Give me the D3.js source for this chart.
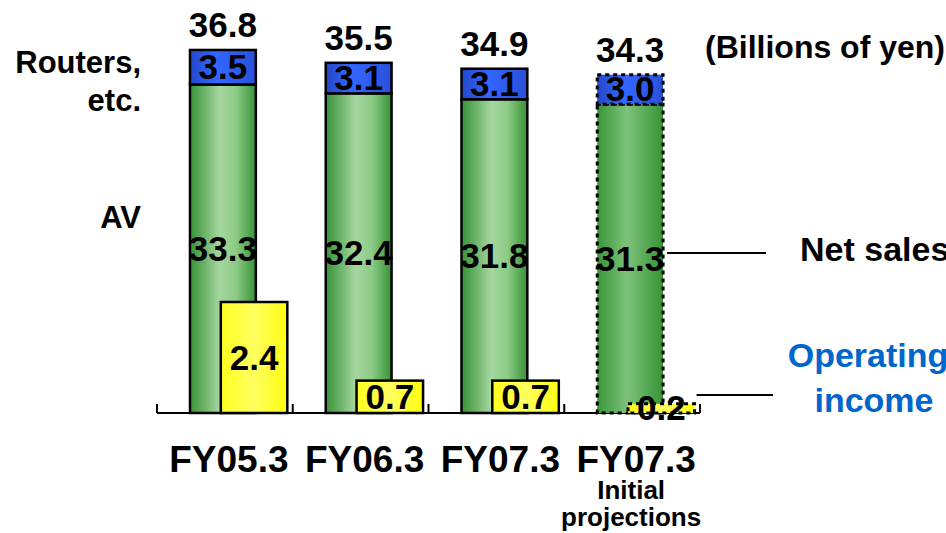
<!DOCTYPE html>
<html>
<head>
<meta charset="utf-8">
<script src="https://cdn.jsdelivr.net/npm/d3@7"></script>
<style>
  body { margin: 0; background: #fff; }
  text { font-family: "Liberation Sans", Arial, sans-serif; font-weight: bold; }
</style>
</head>
<body>
<div id="chart-area"></div>
<script>
// data (billions of yen)
var categories = ["FY05.3", "FY06.3", "FY07.3", "FY07.3"];
var avSales = [33.3, 32.4, 31.8, 31.3];
var routerSales = [3.5, 3.1, 3.1, 3.0];
var netSales = [36.8, 35.5, 34.9, 34.3];
var opIncome = [2.4, 0.7, 0.7, 0.2];
var projected = [false, false, false, true];

var svgWidth = 946, svgHeight = 533;
var svg = d3.select("#chart-area").append("svg")
    .attr("width", svgWidth)
    .attr("height", svgHeight);

// gradients
var defs = svg.append("defs");
function grad(id, stops) {
    var g = defs.append("linearGradient").attr("id", id)
        .attr("x1", "0%").attr("x2", "100%").attr("y1", "0%").attr("y2", "0%");
    stops.forEach(s => g.append("stop").attr("offset", s[0]).attr("stop-color", s[1]));
}
grad("green", [["0%", "#369236"], ["45%", "#a6d6a0"], ["70%", "#8ccb86"], ["100%", "#369236"]]);
grad("green2", [["0%", "#389638"], ["45%", "#7fc27b"], ["100%", "#369436"]]);
grad("blue", [["0%", "#2448c8"], ["40%", "#3366ff"], ["100%", "#2a50d8"]]);
grad("yellow", [["0%", "#ffff20"], ["50%", "#ffff60"], ["100%", "#ffff10"]]);

// scales
var x = d3.scaleBand()
    .domain(d3.range(categories.length))
    .range([157, 700])
    .padding(0);
var y = d3.scaleLinear().domain([0, 40]).range([413, 18.4]);
var y2 = d3.scaleLinear().domain([0, 8]).range([413, 43]);

var bw = x.bandwidth();
var gx = i => x(i) + bw * 0.243;   // sales bar left
var gw = bw * 0.485;
var yx = i => x(i) + bw * 0.47;    // op income bar left
var yw = bw * 0.49;

// axis line with boundary ticks
var axis = svg.append("g").attr("class", "x-axis");
axis.append("line")
    .attr("x1", x.range()[0]).attr("x2", x.range()[1])
    .attr("y1", y(0)).attr("y2", y(0))
    .attr("stroke", "#000").attr("stroke-width", 2);
axis.selectAll(".tick")
    .data(d3.range(categories.length + 1))
    .enter().append("line")
    .attr("x1", d => x.range()[0] + d * x.step())
    .attr("x2", d => x.range()[0] + d * x.step())
    .attr("y1", y(0) - 9).attr("y2", y(0))
    .attr("stroke", "#000").attr("stroke-width", 2);

var dash = d => projected[d] ? "4,4" : null;
var sw = d => projected[d] ? 3 : 2.5;
var idx = d3.range(categories.length);

// AV segment
svg.append("g").selectAll("rect").data(idx).enter().append("rect")
    .attr("x", gx)
    .attr("y", d => y(avSales[d]))
    .attr("width", gw)
    .attr("height", d => y(0) - y(avSales[d]))
    .attr("fill", d => projected[d] ? "url(#green2)" : "url(#green)")
    .attr("stroke", "#000").attr("stroke-width", sw)
    .attr("stroke-dasharray", dash);

// routers segment
svg.append("g").selectAll("rect").data(idx).enter().append("rect")
    .attr("x", gx)
    .attr("y", d => y(netSales[d]))
    .attr("width", gw)
    .attr("height", d => y(avSales[d]) - y(netSales[d]))
    .attr("fill", "url(#blue)")
    .attr("stroke", "#000").attr("stroke-width", sw)
    .attr("stroke-dasharray", dash);

// operating income
svg.append("g").selectAll("rect").data(idx).enter().append("rect")
    .attr("x", yx)
    .attr("y", d => y2(opIncome[d]))
    .attr("width", yw)
    .attr("height", d => y2(0) - y2(opIncome[d]))
    .attr("fill", "url(#yellow)")
    .attr("stroke", "#000").attr("stroke-width", sw)
    .attr("stroke-dasharray", dash);

// value labels
var fmt = d3.format(".1f");
var labels = svg.append("g").attr("font-size", "35px").attr("text-anchor", "middle").attr("fill", "#000");
labels.selectAll(".total").data(idx).enter().append("text")
    .attr("x", d => gx(d) + gw / 2)
    .attr("y", d => y(netSales[d]) - 13)
    .text(d => fmt(netSales[d]));
labels.selectAll(".router").data(idx).enter().append("text")
    .attr("x", d => gx(d) + gw / 2)
    .attr("y", d => (y(netSales[d]) + y(avSales[d])) / 2 + 12)
    .text(d => fmt(routerSales[d]));
labels.selectAll(".av").data(idx).enter().append("text")
    .attr("x", d => gx(d) + gw / 2)
    .attr("y", d => (y(avSales[d]) + y(0)) / 2 + 12)
    .text(d => fmt(avSales[d]));
labels.selectAll(".op").data(idx).enter().append("text")
    .attr("x", d => yx(d) + yw / 2)
    .attr("y", d => (y2(opIncome[d]) + y2(0)) / 2 + 12)
    .text(d => fmt(opIncome[d]));

// category labels
svg.append("g").selectAll("text").data(idx).enter().append("text")
    .attr("x", d => x(d) + bw / 2 + 4)
    .attr("y", 472)
    .attr("font-size", "37px")
    .attr("text-anchor", "middle")
    .text(d => categories[d]);
var last = categories.length - 1;
svg.append("text").attr("x", x(last) + bw / 2 - 1).attr("y", 499)
    .attr("font-size", "26px").attr("text-anchor", "middle").text("Initial");
svg.append("text").attr("x", x(last) + bw / 2 - 1).attr("y", 526)
    .attr("font-size", "26px").attr("text-anchor", "middle").text("projections");

// segment names on the left
var left = svg.append("g").attr("font-size", "31px").attr("text-anchor", "end");
left.append("text").attr("x", 141).attr("y", 73).text("Routers,");
left.append("text").attr("x", 141).attr("y", 111).text("etc.");
left.append("text").attr("x", 141).attr("y", 228).text("AV");

svg.append("text").attr("x", 705).attr("y", 58)
    .attr("font-size", "32px").text("(Billions of yen)");

// legend callouts
var lastRight = gx(last) + gw;
svg.append("line")
    .attr("x1", lastRight + 4).attr("x2", 766)
    .attr("y1", 253).attr("y2", 253)
    .attr("stroke", "#000").attr("stroke-width", 2);
svg.append("text").attr("x", 800).attr("y", 261)
    .attr("font-size", "34px").text("Net sales");

svg.append("line")
    .attr("x1", yx(last) + yw + 2).attr("x2", 773)
    .attr("y1", 395).attr("y2", 395)
    .attr("stroke", "#000").attr("stroke-width", 2);
var op = svg.append("g").attr("font-size", "34px").attr("text-anchor", "middle").attr("fill", "#0066cc");
op.append("text").attr("x", 868).attr("y", 367).text("Operating");
op.append("text").attr("x", 874).attr("y", 412).text("income");
</script>
</body>
</html>
